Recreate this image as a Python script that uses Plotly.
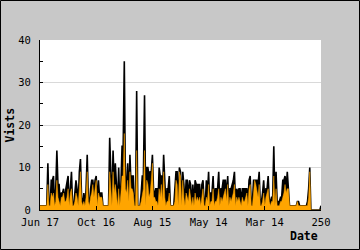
import plotly.graph_objects as go

# ---- data ----
visits = [
    1, 1, 1, 1, 1, 1, 1, 11, 1, 1,
    7, 7, 8, 1, 5, 14, 6, 6, 2, 4,
    4, 5, 2, 5, 7, 8, 1, 6, 9, 1,
    1, 4, 7, 5, 1, 9, 12, 3, 1, 4,
    1, 5, 13, 3, 1, 5, 7, 7, 4, 7,
    8, 1, 7, 3, 4, 4, 1, 1, 1, 1,
    1, 1, 17, 9, 1, 14, 6, 11, 5, 1,
    10, 1, 6, 15, 15, 35, 6, 6, 11, 2,
    13, 6, 8, 8, 1, 1, 28, 1, 1, 1,
    4, 8, 8, 27, 2, 10, 10, 8, 9, 9,
    13, 5, 3, 5, 5, 2, 10, 8, 8, 4,
    13, 5, 1, 5, 5, 8, 1, 1, 1, 1,
    5, 9, 9, 1, 10, 9, 1, 9, 6, 1,
    7, 7, 3, 7, 6, 1, 6, 1, 7, 6,
    6, 6, 6, 1, 6, 7, 2, 1, 7, 4,
    9, 1, 4, 4, 8, 1, 5, 5, 5, 9,
    1, 5, 5, 7, 7, 7, 3, 8, 1, 5,
    5, 6, 7, 9, 1, 5, 4, 5, 5, 2,
    5, 5, 5, 5, 5, 2, 7, 8, 1, 2,
    7, 7, 7, 7, 6, 9, 1, 2, 4, 7,
    2, 5, 5, 8, 2, 2, 3, 3, 15, 2,
    9, 2, 2, 2, 3, 3, 7, 7, 8, 5,
    9, 5, 1, 1, 1, 1, 1, 1, 1, 2,
    2, 1, 1, 1, 1, 1, 1, 1, 2, 5,
    10, 0, 0, 0, 0, 0, 0, 0, 0, 0,
    1,
]
unique = [
    1, 1, 1, 1, 1, 1, 1, 6, 1, 1,
    4, 3, 4, 1, 2, 7, 3, 2, 1, 3,
    3, 4, 2, 2, 3, 5, 1, 4, 5, 1,
    1, 2, 4, 3, 1, 5, 9, 2, 1, 2,
    1, 3, 9, 2, 1, 3, 4, 6, 3, 5,
    7, 1, 4, 3, 3, 3, 1, 1, 1, 1,
    1, 1, 9, 6, 1, 9, 4, 6, 3, 1,
    5, 1, 4, 8, 8, 18, 5, 4, 7, 2,
    9, 5, 5, 4, 1, 1, 14, 1, 1, 1,
    2, 4, 5, 14, 1, 7, 6, 3, 4, 7,
    11, 3, 3, 2, 2, 1, 5, 3, 6, 2,
    9, 3, 1, 2, 2, 4, 1, 1, 1, 1,
    2, 7, 6, 1, 9, 8, 1, 7, 3, 1,
    4, 3, 2, 5, 3, 1, 3, 1, 4, 2,
    3, 2, 3, 1, 3, 5, 1, 1, 3, 2,
    6, 1, 2, 2, 5, 1, 2, 2, 3, 5,
    1, 3, 2, 3, 4, 5, 2, 6, 1, 3,
    2, 3, 4, 6, 1, 3, 2, 3, 2, 1,
    3, 2, 2, 3, 4, 1, 5, 6, 1, 1,
    4, 7, 6, 4, 3, 6, 1, 1, 2, 4,
    1, 3, 4, 5, 2, 1, 2, 2, 8, 1,
    5, 1, 1, 1, 2, 2, 3, 4, 6, 4,
    5, 5, 1, 1, 1, 1, 1, 1, 1, 2,
    1, 1, 1, 1, 1, 1, 1, 1, 1, 3,
    9, 0, 0, 0, 0, 0, 0, 0, 0, 0,
    0,
]
x_idx = list(range(len(visits)))
tick_vals = [0, 50, 100, 150, 200, 250]
tick_text = ["Jun 17", "Oct 16", "Aug 15", "May 14", "Mar 14", "250"]
y_ticks = [0, 10, 20, 30, 40]

W, H = 360, 250
L, R, T, B = 40, 39, 40, 40
pw, ph = W - L - R, H - T - B

fig = go.Figure()
fig.add_trace(go.Scatter(
    x=x_idx, y=visits, mode="lines", fill="tozeroy",
    line=dict(color="#000000", width=1.6), fillcolor="#000000",
    hoverinfo="skip", showlegend=False))
fig.add_trace(go.Scatter(
    x=x_idx, y=unique, mode="lines", fill="tozeroy",
    line=dict(color="#FFA500", width=0.5), fillcolor="#FFA500",
    hoverinfo="skip", showlegend=False))

font_mono = "DejaVu Sans Mono"
fig.update_layout(
    width=W, height=H,
    margin=dict(l=L, r=R, t=T, b=B, pad=0),
    paper_bgcolor="#c8c8c8", plot_bgcolor="#ffffff",
    font=dict(family=font_mono, size=10, color="#000000"),
    xaxis=dict(range=[0, 250], tickvals=tick_vals, ticktext=tick_text,
               ticks="inside", ticklen=4, tickcolor="#000000", tickwidth=1,
               ticklabelstandoff=2,
               showgrid=False, zeroline=False, showline=True,
               linecolor="#000000", linewidth=1, fixedrange=True,
               tickfont=dict(family=font_mono, size=10.5)),
    yaxis=dict(range=[0, 40], tickvals=y_ticks,
               ticks="inside", ticklen=3, tickcolor="#000000", tickwidth=1,
               ticklabelstandoff=6,
               minor=dict(dtick=5, tick0=0, ticks="inside", ticklen=3,
                          tickcolor="#000000", showgrid=False),
               showgrid=True, gridcolor="#d9d9d9", gridwidth=1,
               zeroline=False, showline=True, linecolor="#000000", linewidth=1,
               fixedrange=True, tickfont=dict(family=font_mono, size=10.5)),
    annotations=[
        dict(text="<b>Date</b>", xref="paper", yref="paper",
             x=(320 - L) / pw, y=(H - B - 236) / ph, xanchor="right", yanchor="middle",
             showarrow=False, font=dict(family=font_mono, size=11.5)),
        dict(text="<b>Vists</b>", xref="paper", yref="paper",
             x=(9.5 - L) / pw, y=(H - B - 125) / ph, xanchor="center", yanchor="middle",
             textangle=-90, showarrow=False, font=dict(family=font_mono, size=11.5)),
    ],
    shapes=[
        dict(type="rect", xref="paper", yref="paper",
             x0=(0.5 - L) / pw, x1=(W - 0.5 - L) / pw,
             y0=(H - B - (H - 0.5)) / ph, y1=(H - B - 0.5) / ph,
             line=dict(color="#000000", width=1), fillcolor="rgba(0,0,0,0)", layer="above"),
    ],
)

fig.write_html("out.html")
